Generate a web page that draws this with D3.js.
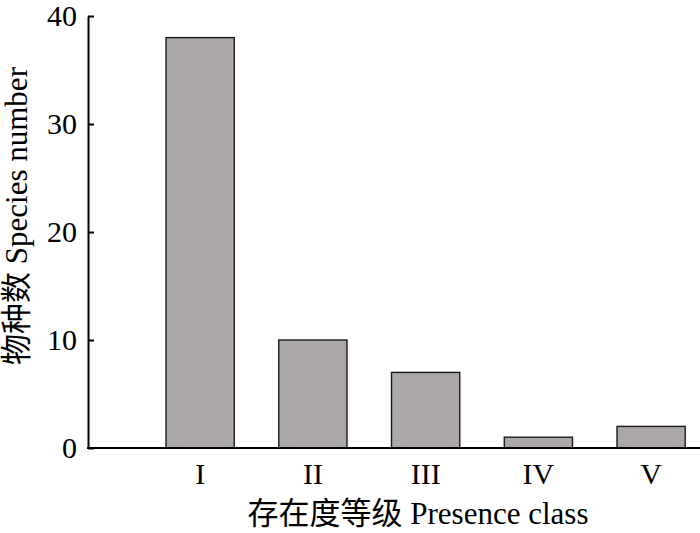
<!DOCTYPE html>
<html>
<head>
<meta charset="utf-8">
<script src="https://cdn.jsdelivr.net/npm/d3@7"></script>
<style>
  html, body { margin: 0; padding: 0; background: #fff; }
  svg { display: block; }
  text { font-family: "Liberation Serif", "Noto Sans CJK SC", serif; fill: #000; }
</style>
</head>
<body>
<script>
const categories = ["I", "II", "III", "IV", "V"];
const values = [38, 10, 7, 1, 2];
const yTicks = [0, 10, 20, 30, 40];
const xTitle = "存在度等级 Presence class";
const yTitle = "物种数 Species number";

const W = 700, H = 533;
const svg = d3.select("body").append("svg").attr("width", W).attr("height", H);

const x0 = 88;
const step = 112.75;
const x = d3.scaleBand()
  .domain(categories)
  .range([x0, x0 + step * (5 - 0.395 + 2 * 0.692)])
  .paddingInner(0.395)
  .paddingOuter(0.692);

const y = d3.scaleLinear().domain([0, 40]).range([448, 16]);

// bars
svg.append("g").selectAll("rect")
  .data(values)
  .join("rect")
  .attr("x", (d, i) => x(categories[i]))
  .attr("y", d => y(d))
  .attr("width", x.bandwidth())
  .attr("height", d => y(0) - y(d))
  .attr("fill", "#aba7aa")
  .attr("stroke", "#1a1a1a")
  .attr("stroke-width", 1.4);

// y axis
const yAxis = d3.axisLeft(y).tickValues(yTicks).tickSizeInner(-6).tickSizeOuter(0).tickPadding(11);
const gy = svg.append("g").attr("transform", `translate(${x0},0)`).call(yAxis);
gy.select(".domain").attr("stroke", "#000").attr("stroke-width", 2);
gy.selectAll(".tick line").attr("stroke", "#000").attr("stroke-width", 2);
gy.selectAll(".tick text")
  .attr("font-family", "Liberation Serif, serif")
  .attr("font-size", 30)
  .attr("fill", "#000");

// x axis
const xAxis = d3.axisBottom(x).tickSize(0).tickPadding(15);
const gx = svg.append("g").attr("transform", `translate(0,${y(0)})`).call(xAxis);
gx.select(".domain").remove();
gx.append("line").attr("x1", x0 - 1).attr("x2", W).attr("y1", 0).attr("y2", 0)
  .attr("stroke", "#000").attr("stroke-width", 2);
gx.selectAll(".tick text")
  .attr("font-family", "Liberation Serif, serif")
  .attr("font-size", 30)
  .attr("fill", "#000");

// titles
svg.append("text")
  .attr("x", 418).attr("y", 524)
  .attr("text-anchor", "middle")
  .attr("font-size", 31)
  .text(xTitle);

svg.append("text")
  .attr("transform", "translate(27,216) rotate(-90)")
  .attr("text-anchor", "middle")
  .attr("font-size", 31)
  .text(yTitle);
</script>
</body>
</html>
